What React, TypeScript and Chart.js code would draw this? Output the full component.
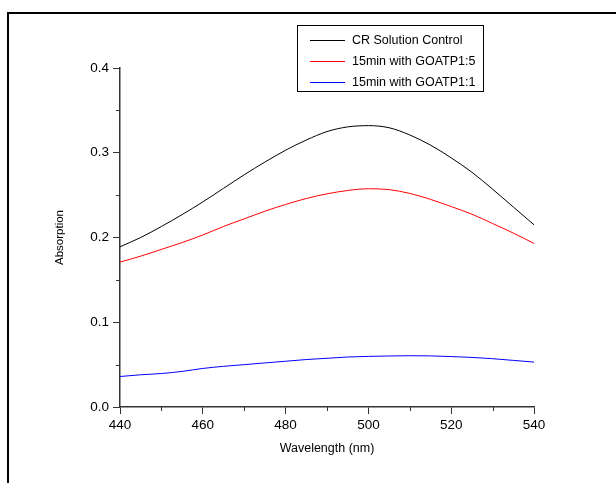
import React, { useEffect, useRef } from "react";
import { Chart, registerables } from "chart.js";

Chart.register(...registerables);

const wavelengths = [440, 445, 450, 455, 460, 465, 470, 475, 480, 485, 490, 495, 500, 505, 510, 515, 520, 525, 530, 535, 540];
const crControl = [0.189, 0.2, 0.213, 0.227, 0.242, 0.258, 0.274, 0.289, 0.303, 0.315, 0.325, 0.3305, 0.332, 0.3295, 0.321, 0.309, 0.294, 0.277, 0.257, 0.236, 0.215];
const goatp15 = [0.171, 0.178, 0.186, 0.194, 0.203, 0.213, 0.222, 0.231, 0.239, 0.246, 0.2515, 0.2555, 0.2575, 0.2565, 0.252, 0.245, 0.2365, 0.2275, 0.2165, 0.2052, 0.193];
const goatp11 = [0.036, 0.038, 0.0395, 0.042, 0.0455, 0.048, 0.05, 0.052, 0.054, 0.056, 0.0575, 0.059, 0.0597, 0.0602, 0.0605, 0.0603, 0.0595, 0.0585, 0.057, 0.055, 0.053];
const seriesLabels = ["CR Solution Control", "15min with GOATP1:5", "15min with GOATP1:1"];
const seriesColors = ["#000000", "#ff0000", "#0000ff"];
const xTitle = "Wavelength (nm)";
const yTitle = "Absorption";

const FONT = "'Liberation Sans', Arial, sans-serif";

const toPoints = (vals: number[]) => wavelengths.map((w, i) => ({ x: w, y: vals[i] }));

const framePlugin = {
  id: "frame",
  afterDraw(chart: any) {
    const ctx = chart.ctx;
    ctx.save();
    ctx.strokeStyle = "#000";
    ctx.lineWidth = 2;
    ctx.strokeRect(8, 13, 700, 600);
    ctx.restore();
  },
};

const minorTicksPlugin = {
  id: "minorTicks",
  afterDraw(chart: any) {
    const ctx = chart.ctx;
    const xs = chart.scales.x;
    const ys = chart.scales.y;
    ctx.save();
    ctx.strokeStyle = "#333";
    ctx.lineWidth = 1;
    ctx.beginPath();
    for (let v = 450; v < 540; v += 20) {
      const px = Math.round(xs.getPixelForValue(v)) + 0.5;
      ctx.moveTo(px, ys.bottom);
      ctx.lineTo(px, ys.bottom + 4);
    }
    for (let v = 0.05; v < 0.4; v += 0.1) {
      const py = Math.round(ys.getPixelForValue(v)) + 0.5;
      ctx.moveTo(xs.left, py);
      ctx.lineTo(xs.left - 4, py);
    }
    ctx.stroke();
    ctx.restore();
  },
};

const legendPlugin = {
  id: "boxLegend",
  afterDraw(chart: any) {
    const ctx = chart.ctx;
    ctx.save();
    ctx.strokeStyle = "#000";
    ctx.lineWidth = 1;
    ctx.strokeRect(297.5, 25.5, 186, 66);
    ctx.font = `12.5px ${FONT}`;
    ctx.textBaseline = "middle";
    ctx.textAlign = "left";
    chart.data.datasets.forEach((ds: any, i: number) => {
      const y = 40 + i * 21 + 0.5;
      ctx.strokeStyle = ds.borderColor;
      ctx.beginPath();
      ctx.moveTo(310, y);
      ctx.lineTo(345, y);
      ctx.stroke();
      ctx.fillStyle = "#000";
      ctx.fillText(ds.label, 352, y);
    });
    ctx.restore();
  },
};

export default function App() {
  const ref = useRef<HTMLCanvasElement | null>(null);
  useEffect(() => {
    if (!ref.current) return;
    const chart = new Chart(ref.current, {
      type: "line",
      data: {
        datasets: [crControl, goatp15, goatp11].map((vals, i) => ({
          label: seriesLabels[i],
          data: toPoints(vals),
          borderColor: seriesColors[i],
          backgroundColor: seriesColors[i],
          borderWidth: 1,
          pointRadius: 0,
          cubicInterpolationMode: "monotone" as const,
          fill: false,
        })),
      },
      options: {
        animation: false,
        responsive: false,
        maintainAspectRatio: false,
        layout: { padding: { left: 0, top: 68, right: 82, bottom: 0 } },
        plugins: { legend: { display: false }, tooltip: { enabled: false } },
        scales: {
          x: {
            type: "linear",
            min: 440,
            max: 540,
            afterFit: (s: any) => { s.height = 76; },
            ticks: { stepSize: 20, color: "#000", padding: 3, font: { family: FONT, size: 13.5 } },
            grid: { display: true, drawOnChartArea: false, drawTicks: true, tickLength: 7, color: "#333" },
            border: { display: true, color: "#333", width: 1.5 },
            title: { display: true, text: xTitle, color: "#000", font: { family: FONT, size: 12.5 }, padding: { top: 0, bottom: 26.5 } },
          },
          y: {
            type: "linear",
            min: 0,
            max: 0.4,
            afterFit: (s: any) => { s.width = 120; },
            ticks: { stepSize: 0.1, color: "#000", padding: 4, font: { family: FONT, size: 13.5 }, callback: (v: any) => Number(v).toFixed(1) },
            grid: { display: true, drawOnChartArea: false, drawTicks: true, tickLength: 7, color: "#333" },
            border: { display: true, color: "#333", width: 1.5 },
            title: { display: true, text: yTitle, color: "#000", font: { family: FONT, size: 11.5 }, padding: { top: 53, bottom: 0 } },
          },
        },
      },
      plugins: [framePlugin, minorTicksPlugin, legendPlugin],
    });
    return () => chart.destroy();
  }, []);
  return (
    <div style={{ position: "fixed", left: 0, top: 0, width: 616, height: 483, background: "#fff" }}>
      <canvas ref={ref} width={616} height={483} style={{ width: 616, height: 483, display: "block" }} />
    </div>
  );
}
